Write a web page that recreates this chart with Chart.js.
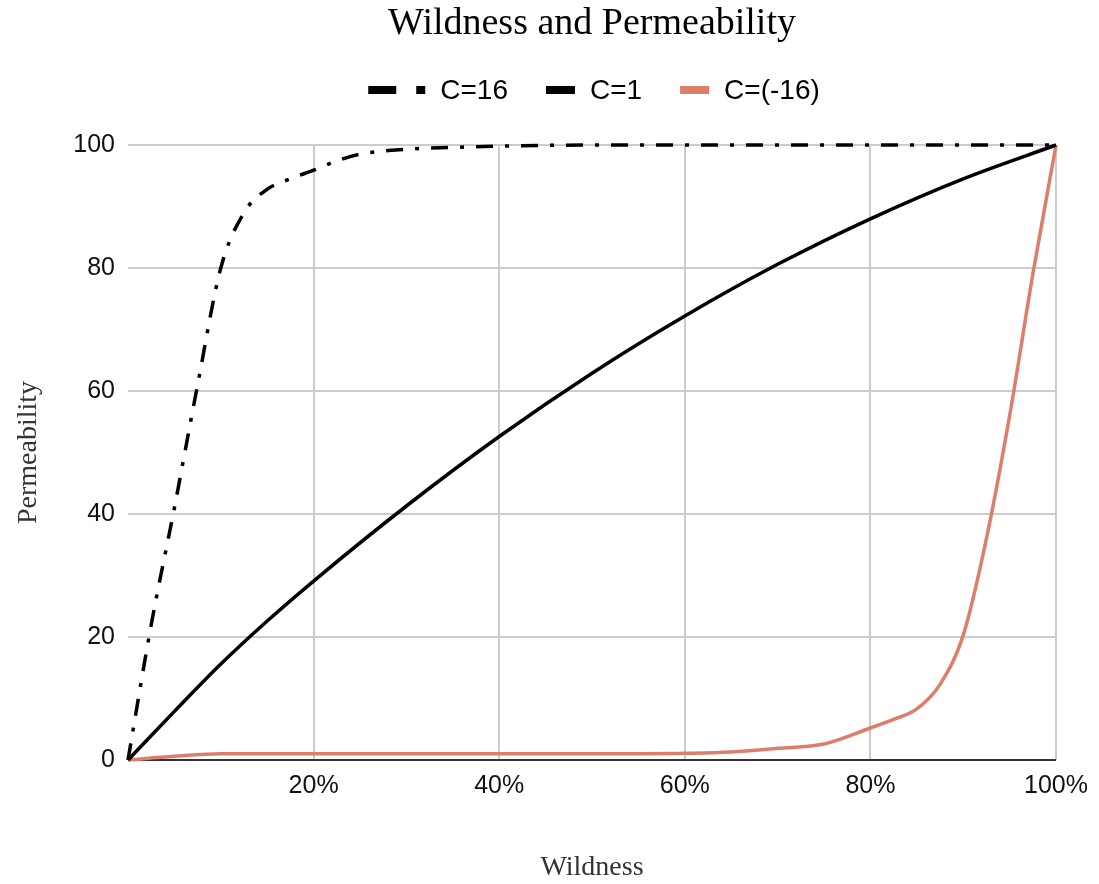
<!DOCTYPE html>
<html><head><meta charset="utf-8">
<script src="https://cdn.jsdelivr.net/npm/chart.js@4.4.0/dist/chart.umd.min.js"></script>
<style>html,body{margin:0;padding:0;background:#fff;overflow:hidden}#wrap{width:1099px;height:884px;position:relative}</style>
</head><body><div id="wrap"><canvas id="c" width="1099" height="884"></canvas></div>
<script>
// Data (x = Wildness %, y = Permeability)
const seriesLabels = ['C=16','C=1','C=(-16)'];
const wildnessC16 = [0,2.5,5,7.5,10,12.5,15,17.5,20,22.5,25,30,35,40,50,60,70,80,90,100];
const permC16     = [0,22,41,61,80,89,92.8,94.5,95.9,97.4,98.5,99.3,99.6,99.8,100,100,100,100,100,100];
const wildnessC1  = [0,5,10,15,20,30,40,50,60,70,80,90,100];
const permC1      = [0,7.9,15.6,22.6,29.1,41.3,52.6,62.9,72.2,80.6,88.0,94.5,100];
const wildnessCm16 = [0,5,10,20,30,40,50,60,65,70,75,80,82.5,85,87.5,90,92.5,95,97.5,100];
const permCm16     = [0,0.6,1,1,1,1,1,1.1,1.3,1.9,2.6,5.2,6.6,8.3,12.3,20.3,36,56,79,100];
const yTickValues = [0,20,40,60,80,100];
const xTickValues = [0,20,40,60,80,100];

const SANS = '"Liberation Sans", Arial, Helvetica, sans-serif';
const SERIF = '"Liberation Serif", "Times New Roman", serif';

const toPts = (xs, ys) => xs.map((w,i)=>({x:w, y:ys[i]}));

const legendPlugin = {
  id: 'sheetLegend',
  afterDraw(chart) {
    const ctx = chart.ctx;
    const ds = chart.data.datasets;
    ctx.save();
    ctx.font = '28px ' + SANS;
    ctx.textBaseline = 'middle';
    ctx.textAlign = 'left';
    const dashed = ds.map(d => Array.isArray(d.borderDash) && d.borderDash.length > 0);
    const iconW = dashed.map(b => b ? 57 : 29);
    const gapText = 15, gapItem = 38;
    const widths = ds.map((d,i)=> iconW[i] + gapText + ctx.measureText(d.label).width);
    const total = widths.reduce((a,b)=>a+b,0) + gapItem*(ds.length-1);
    const ca = chart.chartArea;
    let x = (ca.left+ca.right)/2 + 2 - total/2;
    const y = 90;
    ds.forEach((d,i)=>{
      ctx.fillStyle = d.borderColor;
      if (dashed[i]) { ctx.fillRect(x, y-4, 28, 8); ctx.fillRect(x+48, y-4, 9, 8); }
      else ctx.fillRect(x, y-4, 29, 8);
      ctx.fillStyle = '#000';
      ctx.fillText(d.label, x + iconW[i] + gapText, y + 1);
      x += widths[i] + gapItem;
    });
    ctx.restore();
  }
};

new Chart(document.getElementById('c'), {
  type: 'line',
  data: {
    datasets: [
      {label: seriesLabels[0], data: toPts(wildnessC16, permC16), borderColor: '#000000', borderWidth: 3.5, borderDash: [17,12,4,12], borderCapStyle: 'butt'},
      {label: seriesLabels[1], data: toPts(wildnessC1, permC1), borderColor: '#000000', borderWidth: 3.5},
      {label: seriesLabels[2], data: toPts(wildnessCm16, permCm16), borderColor: '#dd7e6b', borderWidth: 3.5}
    ]
  },
  options: {
    responsive: false,
    animation: false,
    layout: {padding: {top: 0, right: 40, bottom: 0, left: 0}},
    elements: {point: {radius: 0, hoverRadius: 0}, line: {cubicInterpolationMode: 'monotone', fill: false}},
    datasets: {line: {clip: 4}},
    plugins: {
      legend: {display: false},
      tooltip: {enabled: false},
      title: {
        display: true, text: 'Wildness and Permeability', fullSize: false,
        font: {family: SERIF, size: 38, weight: 'normal'}, color: '#000',
        padding: {top: 1, bottom: 98.4}
      }
    },
    scales: {
      x: {
        type: 'linear', min: 0, max: 100,
        afterBuildTicks: s => { s.ticks = xTickValues.map(v => ({value: v})); },
        ticks: {callback: v => v === 0 ? '' : v + '%', font: {family: SANS, size: 25}, color: '#111', padding: 11, maxRotation: 0, autoSkip: false},
        grid: {color: c => (c.tick && c.tick.value === 0) ? 'rgba(0,0,0,0)' : '#cccccc', lineWidth: 2, drawTicks: false},
        border: {display: false},
        title: {display: true, text: 'Wildness', font: {family: SERIF, size: 28}, color: '#333', padding: {top: 0, bottom: 0}},
        afterFit: s => { s.height = 124; }
      },
      y: {
        type: 'linear', min: 0, max: 100,
        afterBuildTicks: s => { s.ticks = yTickValues.map(v => ({value: v})); },
        ticks: {font: {family: SANS, size: 25}, color: '#111', padding: 13},
        grid: {color: c => (c.tick && c.tick.value === 0) ? '#333333' : '#cccccc', lineWidth: 2, drawTicks: false},
        border: {display: false},
        title: {display: true, text: 'Permeability', font: {family: SERIF, size: 28}, color: '#333', padding: {top: 12, bottom: 0}},
        afterFit: s => { s.width = 128; }
      }
    }
  },
  plugins: [legendPlugin]
});
</script>
</body></html>
